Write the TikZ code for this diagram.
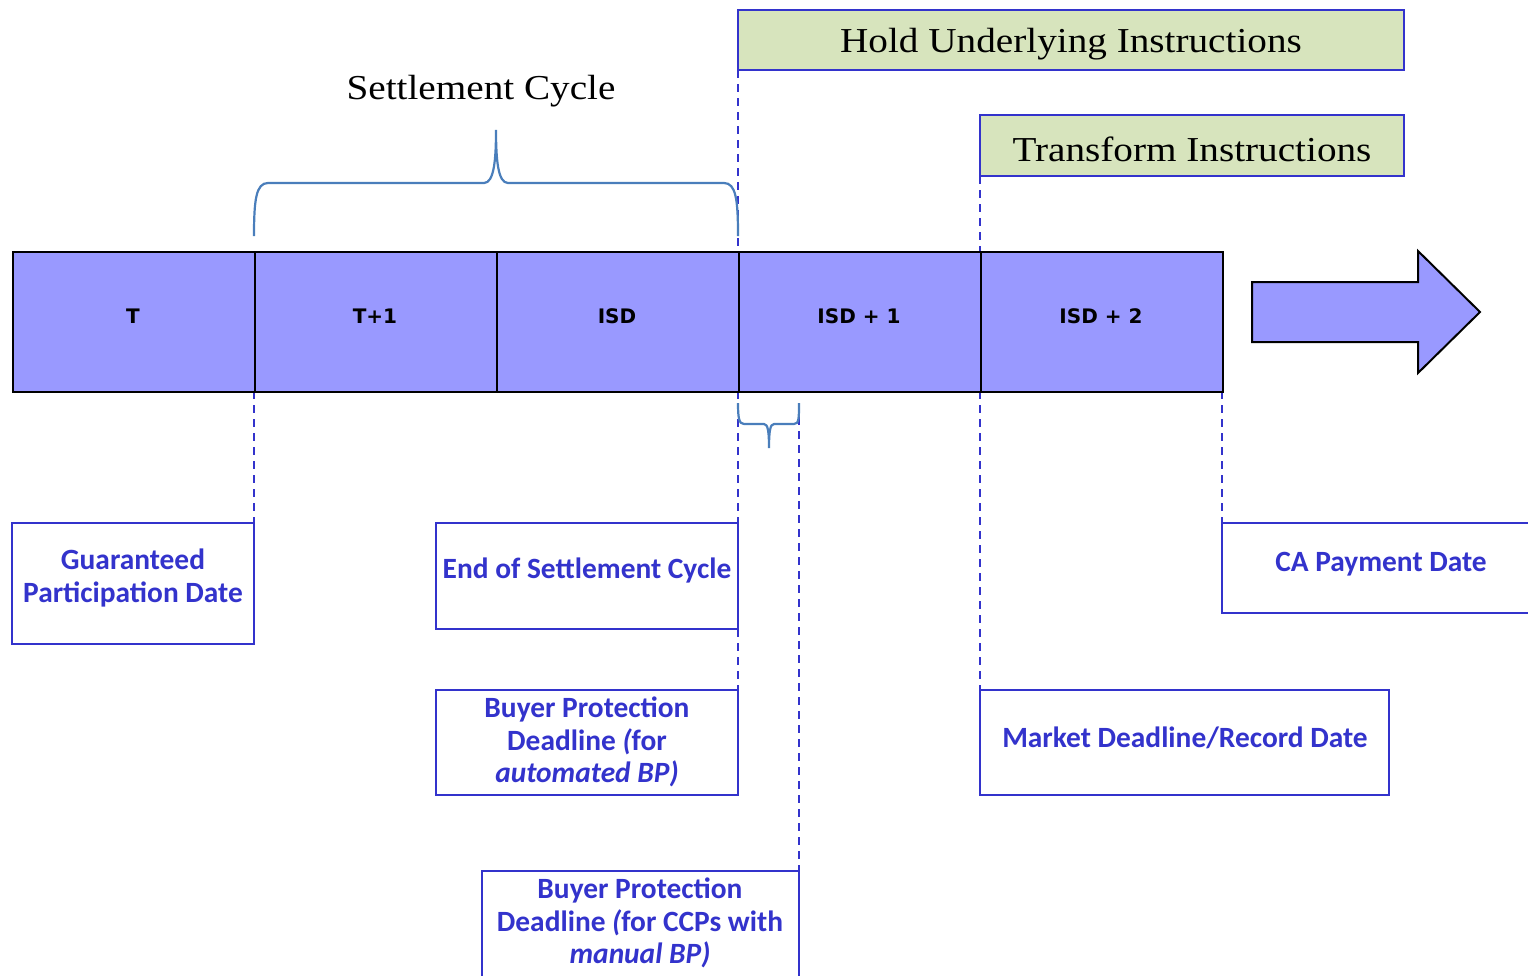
\documentclass[tikz,border=0pt]{standalone}
\usepackage{fontspec}
\setmainfont{Liberation Serif}[FakeStretch=1.12]
\newfontfamily\lbl{Carlito}
\newfontfamily\bartxt{DejaVu Sans}
\usetikzlibrary{calc}
\definecolor{barfill}{RGB}{153,153,255}
\definecolor{dblue}{RGB}{51,51,204}
\definecolor{greenfill}{RGB}{215,228,189}
\definecolor{bracecol}{RGB}{74,126,187}
\tikzset{
  cell/.style={draw=black, line width=2.2pt, fill=barfill},
  celltxt/.style={font=\bartxt\bfseries\fontsize{20}{24}\selectfont, text=black},
  labelbox/.style={draw=dblue, line width=2pt, fill=white},
  labeltxt/.style={font=\lbl\bfseries\fontsize{29.4}{32.5}\selectfont, text=dblue, align=center},
  greenbox/.style={draw=dblue, line width=2pt, fill=greenfill},
  headtxt/.style={font=\fontsize{35}{40}\selectfont, text=black},
  guide/.style={draw=dblue, line width=1.8pt, dash pattern=on 8pt off 6pt},
  bracestyle/.style={draw=bracecol, line width=2.2pt}
}
\begin{document}
\begin{tikzpicture}[x=1pt,y=-1pt]
\useasboundingbox (0,0) rectangle (1528,975);
\clip (0,0) rectangle (1528,975);
% dashed guides
\draw[guide] (738,70) -- (738,251);
\draw[guide] (980,176) -- (980,251);
\draw[guide] (738,391) -- (738,690);
\draw[guide] (980,391) -- (980,690);
\draw[guide] (254,391) -- (254,523);
\draw[guide] (1222,391) -- (1222,523);
\draw[guide] (799,403) -- (799,871);
% top green boxes
\draw[greenbox] (738,10) rectangle (1404,70);
\node[headtxt] (hold) at (1071,44) {Hold Underlying Instructions};
\draw[greenbox] (980,115) rectangle (1404,176);
\node[headtxt] (trans) at (1192,149) {Transform Instructions};
\node[headtxt] (sc) at (481,91) {Settlement Cycle};
% big brace
\draw[bracestyle] (254,236) .. controls (254,200) and (256,183) .. (268,183)
  -- (484,183) .. controls (494,183) and (496,160) .. (496,130)
  .. controls (496,160) and (498,183) .. (508,183)
  -- (724,183) .. controls (736,183) and (738,200) .. (738,236);
% small brace
\draw[bracestyle] (738,403) .. controls (738,418) and (739,424) .. (744,424)
  -- (764,424) .. controls (768,424) and (769,432) .. (769,448)
  .. controls (769,432) and (770,424) .. (774,424)
  -- (794,424) .. controls (799,424) and (799,418) .. (799,403);
% timeline bar
\node[cell, minimum width=242pt, minimum height=140pt, inner sep=0pt, anchor=north west] (cT) at (12,251) {};
\node[cell, minimum width=242pt, minimum height=140pt, inner sep=0pt, anchor=north west] (cT1) at (254,251) {};
\node[cell, minimum width=242pt, minimum height=140pt, inner sep=0pt, anchor=north west] (cISD) at (496,251) {};
\node[cell, minimum width=242pt, minimum height=140pt, inner sep=0pt, anchor=north west] (cISD1) at (738,251) {};
\node[cell, minimum width=242pt, minimum height=140pt, inner sep=0pt, anchor=north west] (cISD2) at (980,251) {};
\node[celltxt] at (133,316) {T};
\node[celltxt] at (375,316) {T+1};
\node[celltxt] at (617,316) {ISD};
\node[celltxt] at (859,316) {ISD + 1};
\node[celltxt] at (1101,316) {ISD + 2};
% block arrow
\draw[cell, line width=2pt, line join=miter] (1252,282) -- (1418,282) -- (1418,251) -- (1480,312) -- (1418,373) -- (1418,342) -- (1252,342) -- cycle;
% label boxes
\draw[labelbox] (12,523) rectangle (254,644);
\node[labeltxt] (gpd) at (133,578) {Guaranteed\\Participation Date};
\draw[labelbox] (436,523) rectangle (738,629);
\node[labeltxt] (esc) at (587,570) {End of Settlement Cycle};
\draw[labelbox] (436,690) rectangle (738,795);
\node[labeltxt] (bpa) at (587,742) {Buyer Protection\\Deadline \textit{(}for\\\textit{automated BP)}};
\draw[labelbox] (482,871) rectangle (799,990);
\node[labeltxt] (bpm) at (640,923) {Buyer Protection\\Deadline \textit{(}for CCPs with\\\textit{manual BP)}};
\draw[labelbox] (980,690) rectangle (1389,795);
\node[labeltxt] (mdr) at (1185,738) {Market Deadline/Record Date};
\draw[labelbox] (1222,523) -- (1540,523) -- (1540,613) -- (1222,613) -- cycle;
\node[labeltxt] (cap) at (1381,564) {CA Payment Date};
\end{tikzpicture}
\end{document}
